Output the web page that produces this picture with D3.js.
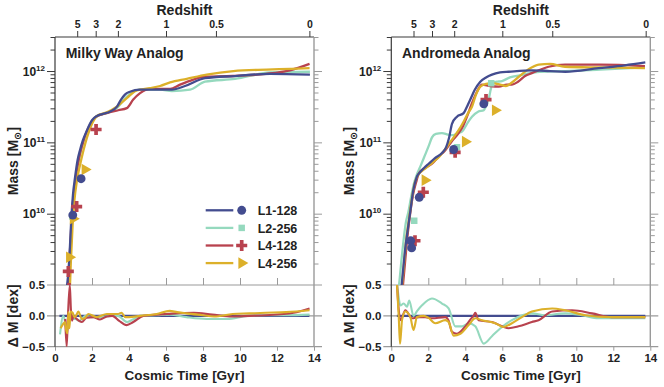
<!DOCTYPE html>
<html lang="en">
<head>
<meta charset="utf-8">
<script src="https://cdn.jsdelivr.net/npm/d3@7"></script>
<style>
  body { margin: 0; background: #fff; }
  svg { font-family: "Liberation Sans", Arial, sans-serif; font-weight: bold; }
</style>
<title>Mass assembly</title>
</head>
<body>
<div id="chart"></div>
<script>

// series: L1-128, L2-256, L4-128, L4-256
const seriesNames = ["L1-128", "L2-256", "L4-128", "L4-256"];
const seriesColors = ["#434c8f", "#95d9be", "#b8424e", "#dcb02a"];
const seriesSymbols = [d3.symbolCircle, d3.symbolSquare, d3.symbolCross, d3.symbolTriangle];
const symbolSizes = [62, 42, 68, 58];

const redshiftLabels = ["5", "3", "2", "1", "0.5", "0"];
const redshiftTimes = [1.2, 2.2, 3.4, 6.0, 8.7, 13.75];
const timeTicks = [0, 2, 4, 6, 8, 10, 12, 14];
const massTicks = [1e10, 1e11, 1e12];
const deltaTicks = [-0.5, 0, 0.5];

// [time Gyr, log10 mass]  -- Milky Way analog
const mwL1 = [[0.6,8.85],[0.65,8.99],[0.73,9.2],[0.81,9.55],[0.89,9.97],[0.97,10.26],[1.08,10.5],[1.22,10.75],[1.35,10.89],[1.51,11.03],[1.73,11.17],[2.0,11.31],[2.27,11.37],[2.59,11.4],[2.97,11.43],[3.35,11.5],[3.57,11.6],[3.78,11.67],[4.05,11.71],[4.59,11.74],[5.68,11.74],[6.32,11.74],[7.03,11.79],[8.11,11.9],[9.73,11.93],[11.62,11.96],[13.78,11.95]];
const mwL2 = [[0.7,8.85],[0.76,9.0],[0.84,9.48],[0.92,9.98],[1.03,10.26],[1.16,10.53],[1.32,10.78],[1.51,10.98],[1.73,11.15],[2.0,11.3],[2.27,11.37],[2.76,11.41],[3.35,11.48],[3.73,11.6],[4.05,11.68],[4.59,11.74],[5.68,11.74],[6.32,11.72],[7.3,11.74],[8.11,11.85],[9.73,11.89],[11.62,11.98],[13.78,11.99]];
const mwL4a = [[0.64,8.85],[0.7,8.99],[0.76,9.27],[0.84,9.62],[0.92,10.02],[1.03,10.3],[1.14,10.54],[1.3,10.78],[1.46,10.95],[1.68,11.13],[1.95,11.27],[2.22,11.36],[2.8,11.41],[3.42,11.45],[3.88,11.48],[4.23,11.6],[4.6,11.69],[5.14,11.75],[6.22,11.75],[6.76,11.81],[7.48,11.88],[8.02,11.92],[9.6,11.93],[11.4,11.96],[12.7,12.01],[13.76,12.1]];
const mwL4b = [[0.75,8.85],[0.81,9.0],[0.86,9.34],[0.95,9.83],[1.05,10.19],[1.19,10.47],[1.35,10.68],[1.54,10.89],[1.73,11.07],[2.0,11.26],[2.27,11.37],[2.8,11.42],[3.34,11.5],[3.88,11.62],[4.42,11.73],[5.14,11.76],[5.68,11.79],[6.22,11.84],[7.12,11.89],[8.2,11.95],[9.64,12.0],[11.44,12.02],[12.7,12.03],[13.76,12.04]];

// Andromeda analog
const m31L1 = [[0.5,8.85],[0.56,9.0],[0.66,9.27],[0.74,9.48],[0.88,9.76],[1.01,10.0],[1.19,10.33],[1.37,10.51],[1.55,10.58],[1.77,10.64],[2.02,10.7],[2.36,10.78],[2.74,10.85],[2.96,10.93],[3.12,11.06],[3.28,11.26],[3.55,11.36],[3.91,11.41],[4.09,11.5],[4.27,11.6],[4.52,11.74],[4.81,11.85],[5.12,11.91],[5.44,11.95],[5.88,11.98],[6.35,11.99],[7.6,12.01],[8.58,12.0],[9.41,11.99],[11.21,12.04],[12.63,12.08],[13.73,12.12]];
const m31L2 = [[0.36,8.85],[0.42,9.0],[0.52,9.27],[0.66,9.62],[0.79,9.88],[0.92,10.02],[1.06,10.22],[1.23,10.43],[1.37,10.54],[1.6,10.68],[1.82,10.82],[2.04,10.96],[2.2,11.07],[2.41,11.12],[2.74,11.13],[3.06,11.11],[3.28,11.1],[3.61,11.13],[3.82,11.15],[4.09,11.26],[4.36,11.36],[4.69,11.43],[5.0,11.45],[5.12,11.51],[5.26,11.6],[5.39,11.76],[5.5,11.84],[5.71,11.85],[5.98,11.86],[6.41,11.91],[6.95,11.94],[8.03,11.99],[9.39,12.0],[11.28,12.02],[13.71,12.05]];
const m31L4a = [[0.57,8.85],[0.63,9.0],[0.74,9.31],[0.88,9.7],[1.01,9.98],[1.17,10.26],[1.34,10.44],[1.5,10.57],[1.82,10.64],[2.2,10.7],[2.52,10.79],[2.92,10.89],[3.28,11.02],[3.64,11.13],[3.88,11.23],[4.09,11.36],[4.36,11.55],[4.63,11.71],[4.9,11.81],[5.34,11.79],[5.81,11.78],[6.25,11.81],[6.52,11.81],[6.85,11.85],[7.23,11.93],[7.6,11.97],[8.5,12.06],[9.39,12.09],[11.28,12.09],[13.71,12.07]];
const m31L4b = [[0.52,8.85],[0.58,9.0],[0.69,9.31],[0.82,9.67],[0.96,9.93],[1.12,10.22],[1.28,10.44],[1.47,10.55],[1.77,10.62],[2.2,10.71],[2.63,10.81],[3.01,10.94],[3.34,11.06],[3.64,11.17],[3.93,11.3],[4.15,11.41],[4.36,11.5],[4.58,11.67],[4.81,11.78],[5.12,11.82],[5.44,11.83],[5.88,11.81],[6.2,11.79],[6.52,11.84],[6.89,11.92],[7.39,12.02],[7.97,12.09],[8.58,12.1],[9.39,12.06],[11.28,12.05],[13.71,12.04]];

// [time Gyr, delta log mass vs L1-128]
const mwD1 = [[0.24,0],[13.75,0]];
const mwD2 = [[0.27,-0.3],[0.45,0.0],[0.55,-0.1],[0.64,-0.25],[0.8,-0.05],[1.1,-0.05],[1.3,-0.08],[1.65,0.0],[2.0,-0.02],[2.43,-0.02],[3.0,0.0],[3.4,0.0],[3.9,-0.1],[4.2,-0.06],[4.6,0.0],[5.5,0.01],[6.2,0.02],[7.1,-0.02],[8.2,-0.05],[9.3,-0.05],[10.4,0.0],[11.4,0.01],[12.5,0.01],[13.76,0.02]];
const mwD3 = [[0.55,-0.05],[0.63,-0.5],[0.7,0.0],[0.8,0.5],[0.86,0.1],[0.92,-0.08],[1.0,0.0],[1.1,-0.03],[1.3,-0.08],[1.45,-0.1],[1.7,-0.03],[2.07,-0.02],[2.43,-0.06],[2.8,-0.01],[3.1,0.0],[3.47,-0.08],[3.87,-0.15],[4.23,-0.1],[4.77,0.0],[5.5,0.02],[6.04,0.03],[7.5,0.05],[8.5,0.02],[9.6,-0.01],[10.5,0.0],[11.4,0.01],[12.9,0.05],[13.76,0.12]];
const mwD4 = [[0.3,-0.2],[0.4,-0.15],[0.54,-0.1],[0.6,-0.22],[0.67,-0.28],[0.72,0.06],[0.78,-0.2],[0.84,0.07],[0.95,0.05],[1.05,-0.02],[1.13,0.0],[1.26,0.07],[1.45,-0.05],[1.6,-0.04],[1.8,0.03],[2.25,-0.02],[2.8,0.03],[3.4,0.03],[3.6,0.05],[3.8,-0.02],[4.0,-0.02],[4.6,0.0],[5.5,0.03],[6.2,0.08],[6.6,0.06],[7.1,0.04],[8.0,0.01],[8.6,-0.01],[9.6,0.03],[10.5,0.04],[11.4,0.05],[12.5,0.06],[13.76,0.09]];

const m31D1 = [[0.3,0],[13.73,0]];
const m31D2 = [[0.3,0.55],[0.4,0.3],[0.49,0.17],[0.67,0.2],[0.85,0.15],[0.97,0.25],[1.2,0.0],[1.4,0.08],[1.66,0.17],[2.2,0.28],[2.74,0.2],[3.1,0.12],[3.46,-0.17],[3.82,-0.17],[4.18,-0.12],[4.54,-0.17],[5.0,-0.45],[5.44,-0.33],[5.9,-0.2],[6.52,-0.07],[7.6,0.04],[8.3,0.01],[9.4,0.04],[10.3,0.01],[11.2,-0.04],[12.5,-0.04],[13.73,-0.04]];
const m31D3 = [[0.3,0.55],[0.4,0.1],[0.5,-0.07],[0.76,0.09],[1.12,-0.04],[1.5,-0.02],[1.84,-0.02],[2.2,-0.04],[2.92,-0.02],[3.1,-0.08],[3.28,-0.26],[3.55,-0.29],[4.0,-0.17],[4.3,-0.05],[4.45,0.0],[4.54,0.05],[4.72,-0.07],[5.44,-0.1],[6.34,-0.2],[6.88,-0.17],[7.6,-0.1],[7.96,-0.07],[8.7,0.07],[9.77,0.09],[10.85,0.04],[11.9,-0.02],[13.73,-0.02]];
const m31D4 = [[0.3,0.55],[0.4,0.0],[0.47,-0.45],[0.52,-0.3],[0.58,-0.07],[0.76,0.07],[1.03,-0.02],[1.2,-0.23],[1.39,-0.02],[1.75,0.0],[2.0,-0.03],[2.38,-0.12],[2.92,-0.07],[3.1,-0.1],[3.37,-0.32],[3.73,-0.29],[4.18,-0.15],[4.54,-0.04],[4.9,-0.07],[5.62,-0.12],[6.07,-0.18],[6.52,-0.12],[7.06,-0.02],[7.6,0.07],[8.7,0.12],[9.4,0.09],[10.5,0.01],[11.9,-0.02],[13.73,-0.02]];

// marker points [time, log10 mass]
const mwP1 = [[0.96,9.98],[1.41,10.49]];
const mwP2 = [[0.94,9.96]];
const mwP4a = [[0.72,9.19],[1.17,10.1],[2.22,11.18],[0.76,8.95]];
const mwP4b = [[0.78,9.39],[0.98,9.93],[1.62,10.62]];

const m31P1 = [[1.05,9.62],[1.1,9.52],[1.51,10.23],[3.37,10.9],[5.0,11.54]];
const m31P2 = [[1.24,9.9],[3.55,10.93],[5.4,11.83]];
const m31P4a = [[1.28,9.62],[1.73,10.3],[3.45,10.86],[5.12,11.6]];
const m31P4b = [[1.82,10.47],[4.0,11.01],[5.62,11.45]];

const panels = [
  {left: 55, title: "Milky Way Analog", mass: [mwL1, mwL2, mwL4a, mwL4b],
   delta: [mwD1, mwD2, mwD3, mwD4], marks: [mwP1, mwP2, mwP4a, mwP4b], legend: true},
  {left: 391.3, title: "Andromeda Analog", mass: [m31L1, m31L2, m31L4a, m31L4b],
   delta: [m31D1, m31D2, m31D3, m31D4], marks: [m31P1, m31P2, m31P4a, m31P4b], legend: false}
];

const W = 259, yTop = 37, yMid = 285, yBot = 346.7;
const dark = "#3a3a3a", gray = "#9a9a9a";

const x = d3.scaleLinear().domain([0, 14]).range([0, W]);
const y = d3.scaleLog().domain([1e9, 3e12]).range([yMid, yTop]);
const yd = d3.scaleLinear().domain([-0.5, 0.5]).range([yBot, yMid]);

const massLine = d3.line().x(d => x(d[0])).y(d => y(Math.pow(10, d[1]))).curve(d3.curveMonotoneX);
const deltaLine = d3.line().x(d => x(d[0])).y(d => yd(d[1])).curve(d3.curveMonotoneX);

const minorTicks = [];
[1e9, 1e10, 1e11].forEach(b => { for (let k = 2; k <= 9; k++) minorTicks.push(k * b); });
minorTicks.push(2e12, 3e12);

const svg = d3.select("#chart").append("svg")
  .attr("width", 664).attr("height", 387);

function drawMark(sel, k, cx, cy) {
  sel.append("path")
    .attr("d", d3.symbol().type(seriesSymbols[k]).size(symbolSizes[k])())
    .attr("transform", `translate(${cx},${cy})` + (k === 3 ? " rotate(90)" : ""))
    .attr("fill", seriesColors[k]);
}

function styleAxis(g, color) {
  g.select(".domain").remove();
  g.selectAll(".tick line").attr("stroke", color).attr("stroke-width", 1);
  g.selectAll(".tick text").attr("fill", "#222").style("font-size", "11.5px");
}

const drawOrder = [1, 2, 3, 0];

panels.forEach((p, i) => {
  const g = svg.append("g").attr("transform", `translate(${p.left},0)`);

  g.append("clipPath").attr("id", "cm" + i).append("rect")
    .attr("x", 0).attr("y", yTop).attr("width", W).attr("height", yMid - yTop);
  g.append("clipPath").attr("id", "cd" + i).append("rect")
    .attr("x", 0).attr("y", yMid).attr("width", W).attr("height", yBot - yMid);

  // log axis ticks, left and right
  g.append("g").call(d3.axisLeft(y).tickValues(minorTicks).tickSize(4.5).tickFormat(""))
    .call(a => styleAxis(a, dark));
  g.append("g").call(d3.axisLeft(y).tickValues(massTicks).tickSize(8).tickFormat(""))
    .call(a => styleAxis(a, dark));
  g.append("g").attr("transform", `translate(${W},0)`)
    .call(d3.axisRight(y).tickValues(minorTicks).tickSize(4.5).tickFormat(""))
    .call(a => styleAxis(a, gray));
  g.append("g").attr("transform", `translate(${W},0)`)
    .call(d3.axisRight(y).tickValues(massTicks).tickSize(8).tickFormat(""))
    .call(a => styleAxis(a, gray));

  massTicks.forEach(v => {
    const t = g.append("text")
      .attr("x", -10).attr("y", y(v) + 4.5)
      .attr("text-anchor", "end").attr("fill", "#222")
      .style("font-size", "12px");
    t.append("tspan").text("10");
    t.append("tspan").attr("dy", -5).style("font-size", "8px").text(Math.round(Math.log10(v)));
  });

  // delta axis
  g.append("g").call(d3.axisLeft(yd).tickValues(deltaTicks).tickSize(0).tickPadding(10)
      .tickFormat(d => d === 0 ? "0.0" : d3.format(".1f")(d)))
    .call(a => styleAxis(a, dark));
  deltaTicks.forEach(v => {
    g.append("line")
      .attr("x1", -8).attr("x2", W + 8)
      .attr("y1", yd(v)).attr("y2", yd(v))
      .attr("stroke", gray).attr("stroke-width", 1.2);
  });

  // redshift axis on top
  g.append("g").attr("transform", `translate(0,${yTop})`)
    .call(d3.axisTop(x).tickValues(redshiftTimes).tickSize(6).tickPadding(3.5)
      .tickFormat((d, j) => redshiftLabels[j]))
    .call(a => styleAxis(a, dark))
    .call(a => a.selectAll(".tick text").style("font-size", "10.5px"));

  // inner ticks at bottom of the mass panel
  g.append("g").attr("transform", `translate(0,${yMid})`)
    .call(d3.axisTop(x).tickValues(timeTicks.slice(1, -1)).tickSize(7).tickFormat(""))
    .call(a => styleAxis(a, gray));

  // time axis
  g.append("g").attr("transform", `translate(0,${yBot})`)
    .call(d3.axisBottom(x).tickValues(timeTicks).tickSize(4).tickPadding(3.5))
    .call(a => styleAxis(a, gray));

  // frame
  g.append("line").attr("x1", 0).attr("x2", 0).attr("y1", yTop).attr("y2", yBot)
    .attr("stroke", dark).attr("stroke-width", 1.2);
  g.append("line").attr("x1", 0).attr("x2", W).attr("y1", yTop).attr("y2", yTop)
    .attr("stroke", dark).attr("stroke-width", 1.2);
  g.append("line").attr("x1", W).attr("x2", W).attr("y1", yTop).attr("y2", yBot)
    .attr("stroke", gray).attr("stroke-width", 1.4);

  // mass histories
  const mg = g.append("g").attr("clip-path", `url(#cm${i})`);
  drawOrder.forEach(k => {
    mg.append("path").datum(p.mass[k])
      .attr("fill", "none").attr("stroke", seriesColors[k])
      .attr("stroke-width", 2.3).attr("stroke-linejoin", "round")
      .attr("d", massLine);
  });
  drawOrder.forEach(k => {
    p.marks[k].forEach(d => drawMark(mg, k, x(d[0]), y(Math.pow(10, d[1]))));
  });

  // differences
  const dg = g.append("g").attr("clip-path", `url(#cd${i})`);
  [0, 1, 2, 3].forEach(k => {
    dg.append("path").datum(p.delta[k])
      .attr("fill", "none").attr("stroke", seriesColors[k])
      .attr("stroke-width", 2.1).attr("stroke-linejoin", "round")
      .attr("d", deltaLine);
  });

  // labels
  g.append("text").attr("x", 10.7).attr("y", 57.5)
    .style("font-size", "14px").attr("fill", "#222").text(p.title);
  g.append("text").attr("x", W / 2).attr("y", 14.5).attr("text-anchor", "middle")
    .style("font-size", "14px").attr("fill", "#222").text("Redshift");
  g.append("text").attr("x", W / 2).attr("y", 380).attr("text-anchor", "middle")
    .style("font-size", "13.5px").attr("fill", "#222").text("Cosmic Time [Gyr]");

  const ml = g.append("text")
    .attr("transform", `translate(-37,${(yTop + yMid) / 2}) rotate(-90)`)
    .attr("text-anchor", "middle").style("font-size", "14px").attr("fill", "#222");
  ml.append("tspan").text("Mass [M");
  ml.append("tspan").attr("dy", 3).style("font-size", "10px").attr("font-family", "DejaVu Sans").text("\u2299");
  ml.append("tspan").attr("dy", -3).text("]");

  g.append("text")
    .attr("transform", `translate(-37,${(yMid + yBot) / 2}) rotate(-90)`)
    .attr("text-anchor", "middle").style("font-size", "14px").attr("fill", "#222")
    .text("\u0394 M [dex]");

  if (p.legend) {
    seriesNames.forEach((name, k) => {
      const ry = 210.3 + k * 17.6;
      g.append("line").attr("x1", 150.7).attr("x2", 178.3).attr("y1", ry).attr("y2", ry)
        .attr("stroke", seriesColors[k]).attr("stroke-width", 2.3);
      drawMark(g, k, 186.7, ry);
      g.append("text").attr("x", 202.7).attr("y", ry + 4.6)
        .style("font-size", "12.5px").attr("fill", "#222").text(name);
    });
  }
});

</script>
</body>
</html>
